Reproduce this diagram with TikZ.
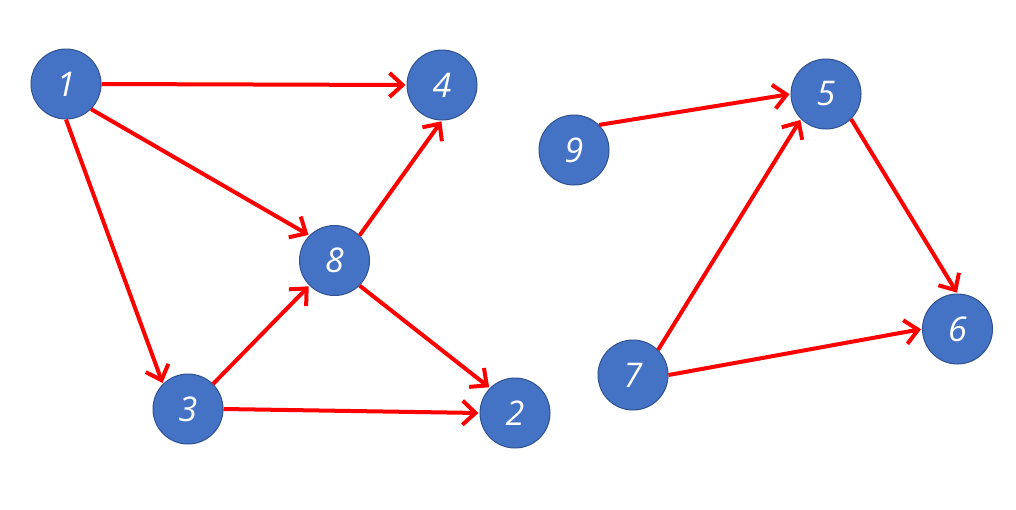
\documentclass[tikz,border=0pt]{standalone}
\usepackage{fontspec}
\setmainfont{Open Sans}
\usetikzlibrary{arrows.meta}
\definecolor{nodefill}{HTML}{4472C4}
\definecolor{nodeline}{HTML}{2F528F}
\definecolor{edgered}{HTML}{FF0000}
\tikzset{
  vtx/.style={circle, fill=nodefill, draw=nodeline, line width=1pt, minimum size=70pt, inner sep=0pt,
    text=white, font=\fontsize{34}{34}\selectfont\itshape},
  edge/.style={draw=edgered, line width=4pt, -{Straight Barb[length=13pt,width=24pt,line width=4pt]}, shorten >=1pt}
}
\begin{document}
\begin{tikzpicture}[x=1pt,y=-1pt]
\useasboundingbox (0,0) rectangle (1016,509);
\fill[white] (0,0) rectangle (1016,509);
\node[vtx] (n1) at (66,84) {1};
\node[vtx] (n4) at (442,85) {4};
\node[vtx] (n8) at (334.5,260.5) {8};
\node[vtx] (n3) at (188,409) {3};
\node[vtx] (n2) at (515,413) {2};
\node[vtx] (n9) at (574,150) {9};
\node[vtx] (n5) at (826,94) {5};
\node[vtx] (n6) at (957.5,329) {6};
\node[vtx] (n7) at (633,375) {7};
\draw[edge] (n1.east) -- (n4.west);
\draw[edge] (n1.south east) -- (n8.north west);
\draw[edge] (n1.south) -- (n3.north west);
\draw[edge] (n8.north east) -- (n4.south);
\draw[edge] (n8.south east) -- (n2.north west);
\draw[edge] (n3.north east) -- (n8.south west);
\draw[edge] (n3.east) -- (n2.west);
\draw[edge] (n9.north east) -- (n5.west);
\draw[edge] (n5.south east) -- (n6.north);
\draw[edge] (n7.north east) -- (n5.south west);
\draw[edge] (n7.east) -- (n6.west);
\end{tikzpicture}
\end{document}
